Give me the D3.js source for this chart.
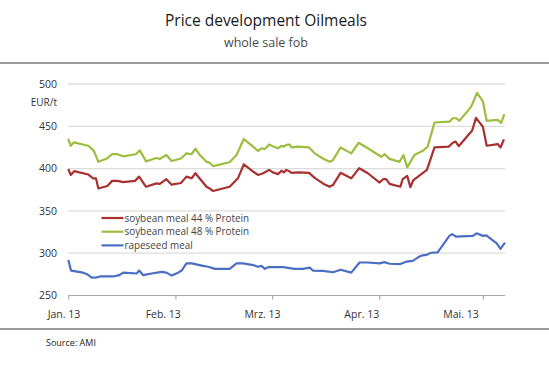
<!DOCTYPE html>
<html>
<head>
<meta charset="utf-8">
<script src="https://cdn.jsdelivr.net/npm/d3@7"></script>
<style>
  html, body { margin: 0; padding: 0; background: #fff; }
  svg { display: block; }
  text { font-family: "Open Sans", "Noto Sans", sans-serif; }
</style>
</head>
<body>
<svg id="chart" width="549" height="379"></svg>
<script>
// ---- Data (x = days since 1 Jan 2013, y = EUR/t) ----
const titleText = "Price development Oilmeals";
const subtitleText = "whole sale fob";
const sourceText = "Source: AMI";
const unitLabel = "EUR/t";

const monthTicks = [0, 31, 59, 90, 120];
const monthLabels = ["Jan. 13", "Feb. 13", "Mrz. 13", "Apr. 13", "Mai. 13"];
const yTicks = [250, 300, 350, 400, 450, 500];

const seriesNames = ["soybean meal 44 % Protein", "soybean meal 48 % Protein", "rapeseed meal"];
const seriesColors = ["#a8302e", "#9cbd3e", "#4a6ec3"];

const soy44Days = [0.0,0.7,1.7,5.8,7.2,8.0,8.7,11.3,12.7,14.2,15.9,19.3,20.5,22.5,25.5,26.5,28.4,29.9,32.6,34.2,35.7,36.8,38.1,40.0,40.9,41.9,46.7,49.1,50.8,53.5,54.9,56.4,58.1,59.2,60.7,61.7,62.4,63.1,64.1,64.6,66.5,69.7,71.3,73.7,75.6,76.6,78.8,81.9,84.2,86.7,90.1,91.1,92.0,93.0,96.1,96.8,98.1,99.0,99.9,103.8,106.0,110.1,111.3,112.1,113.0,116.9,118.0,120.0,121.1,124.3,125.1,126.1];
const soy44Values = [399.5,392.5,397,393,388.5,388.5,376.5,379.5,385.5,385.5,384,385.5,390.5,378.5,382.5,382,387.5,381,383,390.5,388.5,394.5,388,378.5,376.5,373.5,378.5,388.5,405,396.5,392.5,394.5,398.5,395.5,393.5,397.5,395.5,398.5,396.5,395,395.5,395,389,382.5,378.5,380.5,395,388.5,400.5,394.5,383.5,387.5,387.5,382,378.5,387.5,391.5,378,386.5,398.5,425,426,430.5,432,426.5,445,460,449.5,427,429,425,434.5];

const soy48Days = [0.0,0.7,1.6,5.8,7.4,8.7,11.2,12.7,14.2,15.9,19.5,20.7,22.5,25.5,26.5,28.4,29.9,32.6,34.2,35.7,36.8,38.1,40.0,40.9,41.9,46.7,48.7,50.8,53.3,54.9,55.9,56.9,58.1,59.2,60.7,61.7,62.4,63.1,64.1,64.6,66.5,69.7,71.3,73.7,75.6,76.6,78.8,81.9,84.0,86.7,90.6,91.6,93.0,95.9,97.0,98.1,100.2,102.6,104.0,106.0,110.3,111.3,112.3,113.2,116.6,118.3,120.0,121.1,124.3,125.3,126.2];
const soy48Values = [435,427,431,427,421,408,412,417,417,414.5,417,421.5,408.5,412.5,411.5,416,409,412,418,417,423.5,416,408,407,403,407.5,416,435,426.5,421,424,423,428.5,426.5,424,427,426,428,428.5,425,426,425,418,412,408,410,425,418,430.5,424,414,417,411.5,408,416,401.5,416,421,426,454.5,455.5,459.5,459.5,456.5,473,489.5,479.5,456.5,457.5,454,464.5];

const rapeDays = [0.0,0.8,4.3,5.3,6.8,8.2,9.2,13.0,14.7,15.9,19.8,20.5,21.7,24.1,27.0,28.4,29.9,31.8,32.8,34.2,35.7,39.0,40.5,42.4,46.7,48.7,50.6,53.5,54.9,55.9,56.9,57.8,62.1,63.1,65.5,67.9,69.9,70.8,73.7,76.6,78.8,81.9,84.3,86.7,90.1,91.5,93.0,95.9,97.8,99.7,101.6,102.6,103.6,105.0,106.9,110.3,111.1,112.3,117.1,118.2,120.0,121.0,124.0,125.1,126.4];
const rapeValues = [292,279.5,277,275.5,271,271.5,272.5,272.5,274,277,276,279.5,274,276,278,277,273.5,277,279.5,288,288,285,284,281.5,281.5,288,288,286,284,285,281.5,283.5,283.5,283,281.5,281.5,283,279.5,279,277.5,280.5,277,289,289,288,289.5,287.5,287,290,291,296,297.5,298,300.5,301,320.5,322.5,319.5,320.5,323.5,320.5,321,311.5,305,312.5];

const xDomainEnd = 126.4;

// ---- Drawing ----
const svg = d3.select("#chart");
const W = 549, H = 379;

const x = d3.scaleLinear().domain([0, xDomainEnd]).range([68.3, 505]);
const y = d3.scaleLinear().domain([250, 500]).range([295.5, 84]);

// Title
svg.append("text").attr("x", 266).attr("y", 26).attr("text-anchor", "middle")
  .attr("font-size", 15.5).attr("fill", "#1a1a1a").text(titleText);
svg.append("text").attr("x", 266).attr("y", 46.5).attr("text-anchor", "middle")
  .attr("font-size", 12.5).attr("fill", "#4a4a4a").text(subtitleText);

// Frame lines
svg.append("line").attr("x1", 0).attr("x2", W).attr("y1", 63).attr("y2", 63)
  .attr("stroke", "#7a7a7a").attr("stroke-width", 1.6);
svg.append("line").attr("x1", 0).attr("x2", W).attr("y1", 329).attr("y2", 329)
  .attr("stroke", "#7a7a7a").attr("stroke-width", 1.6);

// Gridlines
svg.append("g").selectAll("line").data(yTicks.filter(v => v > 250)).join("line")
  .attr("x1", 68).attr("x2", 505)
  .attr("y1", d => y(d)).attr("y2", d => y(d))
  .attr("stroke", "#dcdcdc").attr("stroke-width", 1.3);

// Y axis labels
const yAxis = d3.axisLeft(y).tickValues(yTicks).tickSize(0).tickPadding(0).tickFormat(d3.format("d"));
const gy = svg.append("g").attr("transform", "translate(57,0)").call(yAxis);
gy.select(".domain").remove();
gy.selectAll("text").attr("font-size", 10.5).attr("fill", "#333")
  .attr("font-family", "'Open Sans', sans-serif");

svg.append("text").attr("x", 57).attr("y", 106).attr("text-anchor", "end")
  .attr("font-size", 10).attr("fill", "#333").text(unitLabel);

// X axis
const xAxis = d3.axisBottom(x).tickValues(monthTicks).tickSize(4).tickFormat("");
const gx = svg.append("g").attr("transform", `translate(0,${y(250)})`).call(xAxis);
gx.select(".domain").attr("stroke", "#a8a8a8").attr("stroke-width", 1.2)
  .attr("d", `M${x(0)},0H${x(xDomainEnd)}`);
gx.selectAll(".tick line").attr("stroke", "#a8a8a8").attr("stroke-width", 1.2);

// Month labels (placed on an evenly spaced label scale)
const xl = d3.scalePoint().domain(monthLabels).range([64, 461]);
svg.append("g").selectAll("text").data(monthLabels).join("text")
  .attr("x", d => xl(d)).attr("y", 318).attr("text-anchor", "middle")
  .attr("font-size", 10.5).attr("fill", "#333").text(d => d);

// Source
svg.append("text").attr("x", 46).attr("y", 345.5).attr("font-size", 9)
  .attr("fill", "#222").text(sourceText);

// Lines
const series = [
  { days: soy44Days, vals: soy44Values },
  { days: soy48Days, vals: soy48Values },
  { days: rapeDays, vals: rapeValues }
];
const line = d3.line().x(d => x(d[0])).y(d => y(d[1]));
series.forEach((s, i) => {
  const pts = s.days.map((d, j) => [d, s.vals[j]]);
  svg.append("path").datum(pts).attr("d", line).attr("fill", "none")
    .attr("stroke", seriesColors[i]).attr("stroke-width", 2.2)
    .attr("stroke-linejoin", "round");
});

// Legend
const lg = svg.append("g");
seriesNames.forEach((n, i) => {
  const cy = 218 + i * 13.7;
  lg.append("line").attr("x1", 101.5).attr("x2", 123.5).attr("y1", cy).attr("y2", cy)
    .attr("stroke", seriesColors[i]).attr("stroke-width", 2.2);
  lg.append("text").attr("x", 124.5).attr("y", cy + 3.7).attr("font-size", 9.9)
    .attr("fill", "#444").text(n);
});
</script>
</body>
</html>
